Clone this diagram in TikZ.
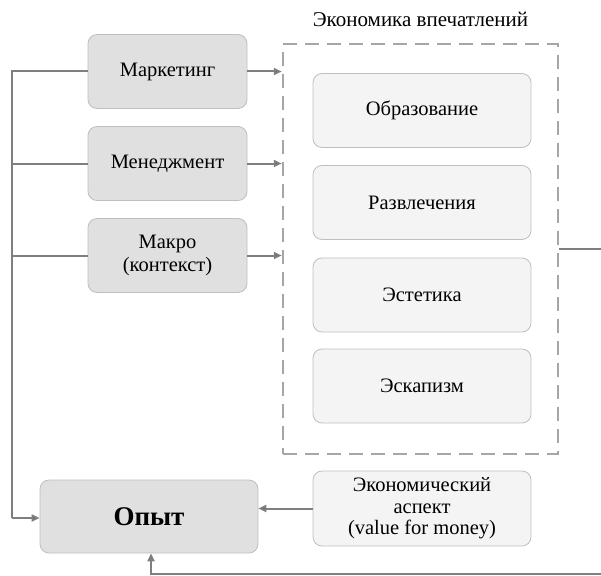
\documentclass[tikz,border=0pt]{standalone}
\usepackage{fontspec}
\setmainfont{Liberation Serif}
\usetikzlibrary{arrows.meta}
\definecolor{linegray}{HTML}{7F7F7F}
\definecolor{dashgray}{HTML}{A6A6A6}
\definecolor{edgegray}{HTML}{BFBFBF}
\definecolor{darkfill}{HTML}{E0E0E0}
\definecolor{lightfill}{HTML}{F4F4F4}
\begin{document}
\begin{tikzpicture}[x=1pt, y=-1pt,
    factor/.style={draw=edgegray, fill=darkfill, rounded corners=9pt, line width=0.8pt,
        minimum width=159pt, minimum height=74pt, align=center, font=\fontsize{20.5}{23}\selectfont},
    kind/.style={draw=edgegray, fill=lightfill, rounded corners=9pt, line width=0.8pt,
        minimum width=218pt, minimum height=74pt, align=center, font=\fontsize{20.5}{23}\selectfont},
    conn/.style={draw=linegray, line width=2pt},
    >={Triangle[length=8pt, width=7pt]}]
                        \useasboundingbox (0,0) rectangle (601,575);
                        \clip (0,0) rectangle (601,575);

                        \node at (420.5, 19) (title) {\fontsize{21}{24}\selectfont Экономика впечатлений};
                        \node [draw=dashgray, dash pattern=on 14pt off 8pt, line width=2.5pt,
                               minimum width=275pt, minimum height=410pt] at (420.5, 249) (frame) {};

                        \node [factor] at (167.5, 71.5) (mark) {Маркетинг};
                        \node [factor] at (167.5, 163.5) (mgmt) {Менеджмент};
                        \node [factor] at (167.5, 255.5) (macro) {Макро\\(контекст)};

                        \node [kind] at (422, 110.5) (edu) {Образование};
                        \node [kind] at (422, 202.5) (ent) {Развлечения};
                        \node [kind] at (422, 295) (est) {Эстетика};
                        \node [kind] at (422, 386) (esc) {Эскапизм};

                        \node [factor, minimum width=218pt, minimum height=73pt,
                               font=\fontsize{27}{30}\selectfont\bfseries] at (149, 516.5) (exp) {Опыт};
                        \node [kind, minimum height=75pt, font=\fontsize{20.5}{21.5}\selectfont]
                            at (422, 508.5) (econ) {Экономический\\аспект\\(value for money)};

                        \coordinate (lt) at (12, 71.5);
                        \coordinate (lb) at (12, 518);
                        \coordinate (cr) at (640, 249);
                        \coordinate (cb) at (151, 574);

                        \path [conn]
                            (mark.west) -- (lt) -- (lb)
                            (mgmt.west) -- (lt |- mgmt.west)
                            (macro.west) -- (lt |- macro.west);
                        \path [conn]
                            (lb) edge [->] (lb -| exp.west)
                            (mark.east) edge [->] (mark.east -| frame.west)
                            (mgmt.east) edge [->] (mgmt.east -| frame.west)
                            (macro.east) edge [->] (macro.east -| frame.west)
                            (econ.west) edge [->] (econ.west -| exp.east);
                        \draw [conn, ->] (frame.east) -- (cr) |- (cb) -- (cb |- exp.south);
                    \end{tikzpicture}
\end{document}
